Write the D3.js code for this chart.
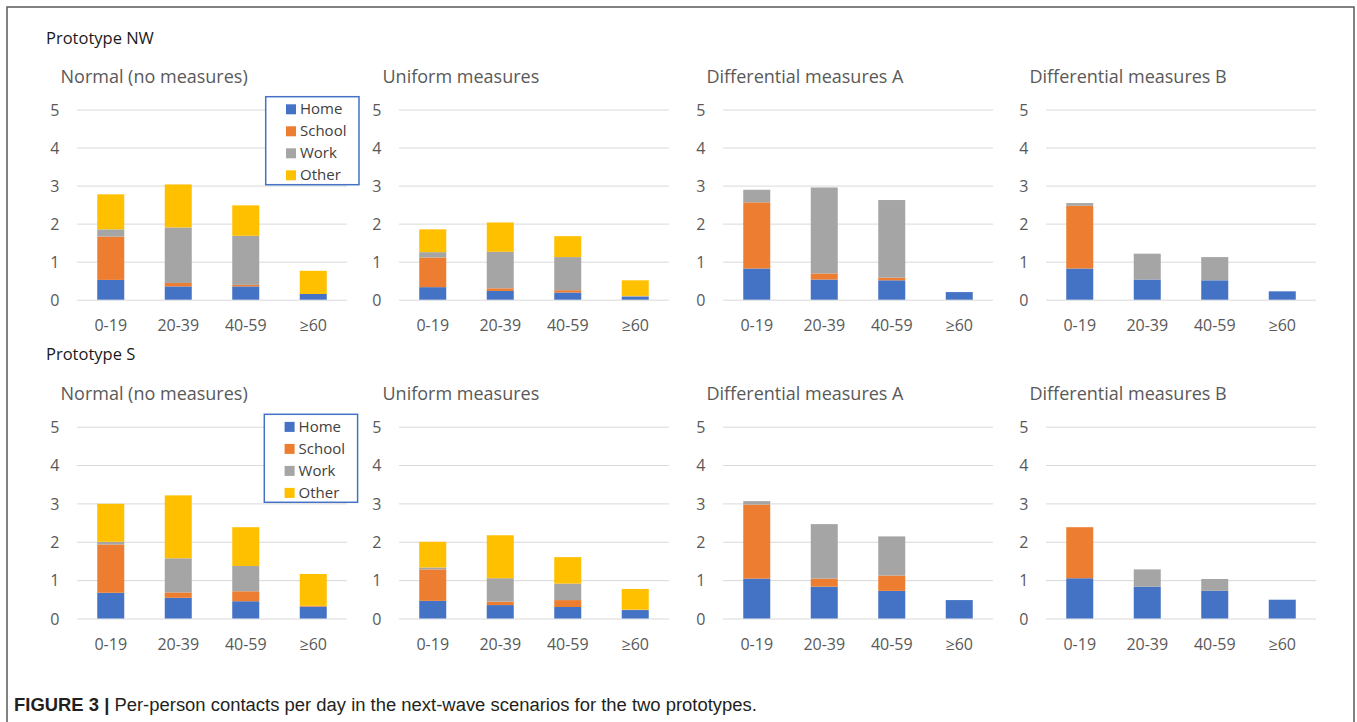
<!DOCTYPE html>
<html>
<head>
<meta charset="utf-8">
<script src="https://cdn.jsdelivr.net/npm/d3@7/dist/d3.min.js"></script>
<style>
  html, body { margin: 0; padding: 0; background: #fff; }
  svg { display: block; }
</style>
</head>
<body>
<svg id="chart" width="1357" height="722"></svg>
<script>
// ---------------- DATA ----------------
const ageGroups = ["0-19", "20-39", "40-59", "≥60"];
const contactTypes = ["Home", "School", "Work", "Other"];
const typeColors = ["#4472C4", "#ED7D31", "#A5A5A5", "#FFC000"];
const scenarioTitles = ["Normal (no measures)", "Uniform measures", "Differential measures A", "Differential measures B"];
const prototypeLabels = ["Prototype NW", "Prototype S"];
const yTicks = [0, 1, 2, 3, 4, 5];
const captionBold = "FIGURE 3 |";
const captionText = " Per-person contacts per day in the next-wave scenarios for the two prototypes.";

// each array: rows = Home, School, Work, Other ; columns = age groups
const nwNormal   = [[0.52, 0.35, 0.35, 0.15], [1.14, 0.09, 0.04, 0.00], [0.19, 1.46, 1.29, 0.00], [0.92, 1.13, 0.80, 0.61]];
const nwUniform  = [[0.33, 0.23, 0.19, 0.08], [0.78, 0.07, 0.06, 0.00], [0.14, 0.96, 0.87, 0.02], [0.60, 0.77, 0.55, 0.41]];
const nwDiffA    = [[0.82, 0.53, 0.51, 0.20], [1.74, 0.16, 0.07, 0.00], [0.33, 2.26, 2.04, 0.00], [0.00, 0.00, 0.00, 0.00]];
const nwDiffB    = [[0.82, 0.53, 0.51, 0.22], [1.65, 0.00, 0.00, 0.00], [0.07, 0.68, 0.61, 0.00], [0.00, 0.00, 0.00, 0.00]];
const sNormal    = [[0.67, 0.54, 0.45, 0.31], [1.26, 0.14, 0.26, 0.02], [0.07, 0.89, 0.66, 0.00], [0.99, 1.64, 1.01, 0.83]];
const sUniform   = [[0.46, 0.35, 0.30, 0.22], [0.82, 0.09, 0.18, 0.00], [0.05, 0.61, 0.43, 0.01], [0.67, 1.12, 0.69, 0.54]];
const sDiffA     = [[1.04, 0.83, 0.72, 0.48], [1.93, 0.21, 0.40, 0.00], [0.09, 1.42, 1.02, 0.00], [0.00, 0.00, 0.00, 0.00]];
const sDiffB     = [[1.05, 0.83, 0.72, 0.49], [1.33, 0.00, 0.00, 0.00], [0.00, 0.45, 0.31, 0.00], [0.00, 0.00, 0.00, 0.00]];

const panelData = [
  [nwNormal, nwUniform, nwDiffA, nwDiffB],
  [sNormal, sUniform, sDiffA, sDiffB]
];

// ---------------- LAYOUT ----------------
const svg = d3.select("#chart");
const FONT = "'Open Sans', 'Noto Sans', sans-serif";
const textGrey = "#595959";
const gridColor = "#d9d9d9";

const panelX = [77, 399, 723, 1046];
const panelW = 270;
const rows = [
  { y0: 299.7, y5: 109.5, protoY: 43.5, titleY: 82.6, tickY: 331, legend: { x: 265.7, y: 96.7 } },
  { y0: 618.5, y5: 426.7, protoY: 360, titleY: 399.8, tickY: 649.5, legend: { x: 264.3, y: 414.3 } }
];

// frame
svg.append("rect")
  .attr("x", 7).attr("y", 7).attr("width", 1347).attr("height", 730)
  .attr("fill", "none").attr("stroke", "#5a5a5a").attr("stroke-width", 1.5);

const stack = d3.stack().keys(d3.range(contactTypes.length));

rows.forEach((row, ri) => {
  const y = d3.scaleLinear().domain([0, 5]).range([row.y0, row.y5]);

  svg.append("text")
    .attr("x", 46).attr("y", row.protoY)
    .attr("font-family", FONT).attr("font-size", 16.5)
    .attr("fill", "#1a1a1a")
    .text(prototypeLabels[ri]);

  panelX.forEach((px, pi) => {
    const data = panelData[ri][pi];
    const x = d3.scaleBand().domain(ageGroups).range([px, px + panelW])
      .paddingInner(0.6).paddingOuter(0.3);
    const g = svg.append("g");

    // title
    g.append("text")
      .attr("x", px - 16.5).attr("y", row.titleY)
      .attr("font-family", FONT).attr("font-size", 18)
      .attr("fill", textGrey)
      .text(scenarioTitles[pi]);

    // y axis with gridlines
    const yAxis = d3.axisLeft(y).tickValues(yTicks).tickSize(-panelW).tickPadding(17.7).tickFormat(d3.format("d"));
    const ya = g.append("g").attr("transform", `translate(${px},0)`).call(yAxis);
    ya.select(".domain").remove();
    ya.selectAll(".tick line").attr("stroke", gridColor).attr("stroke-width", 1);
    ya.selectAll(".tick text")
      .attr("font-family", FONT).attr("font-size", 16)
      .attr("fill", textGrey).attr("dy", "0.36em");

    // bars
    const table = ageGroups.map((a, ai) => {
      const o = { age: a };
      contactTypes.forEach((t, ti) => { o[ti] = data[ti][ai]; });
      return o;
    });
    const series = stack(table);
    series.forEach((s, si) => {
      g.append("g").attr("fill", typeColors[si])
        .selectAll("rect").data(s.filter(d => d[1] - d[0] > 0)).join("rect")
        .attr("x", d => x(d.data.age))
        .attr("width", x.bandwidth())
        .attr("y", d => y(d[1]))
        .attr("height", d => y(d[0]) - y(d[1]));
    });

    // x axis labels
    const xAxis = d3.axisBottom(x).tickSize(0).tickPadding(0);
    const xa = g.append("g").attr("transform", `translate(0,${row.tickY})`).call(xAxis);
    xa.select(".domain").remove();
    xa.selectAll(".tick text")
      .attr("font-family", FONT).attr("font-size", 16)
      .attr("fill", textGrey).attr("dy", 0).attr("y", 0);
  });

  // legend
  const L = row.legend;
  const lg = svg.append("g").attr("transform", `translate(${L.x},${L.y})`);
  lg.append("rect").attr("width", 93.3).attr("height", 88)
    .attr("fill", "#fff").attr("stroke", "#4472C4").attr("stroke-width", 1.5);
  contactTypes.forEach((t, ti) => {
    const by = 17.4 + ti * 22;
    lg.append("rect").attr("x", 20.3).attr("y", by - 9.8).attr("width", 10).attr("height", 10)
      .attr("fill", typeColors[ti]);
    lg.append("text").attr("x", 34.3).attr("y", by)
      .attr("font-family", FONT).attr("font-size", 15).attr("fill", "#404040")
      .text(t);
  });
});

// caption (condensed horizontally to match the narrow journal typeface)
const capG = svg.append("g");
const cap = capG.append("text")
  .attr("x", 0).attr("y", 0)
  .attr("font-family", "'Liberation Sans Narrow', 'Liberation Sans', 'Arial', sans-serif")
  .attr("font-size", 19).attr("fill", "#231f20");
cap.append("tspan").attr("font-weight", "bold").text(captionBold);
cap.append("tspan").text(captionText);
const capTarget = 743;
const capLen = cap.node().getComputedTextLength();
const sx = capLen > 0 ? capTarget / capLen : 1;
capG.attr("transform", `translate(14,711) scale(${sx},1)`);
</script>
</body>
</html>
